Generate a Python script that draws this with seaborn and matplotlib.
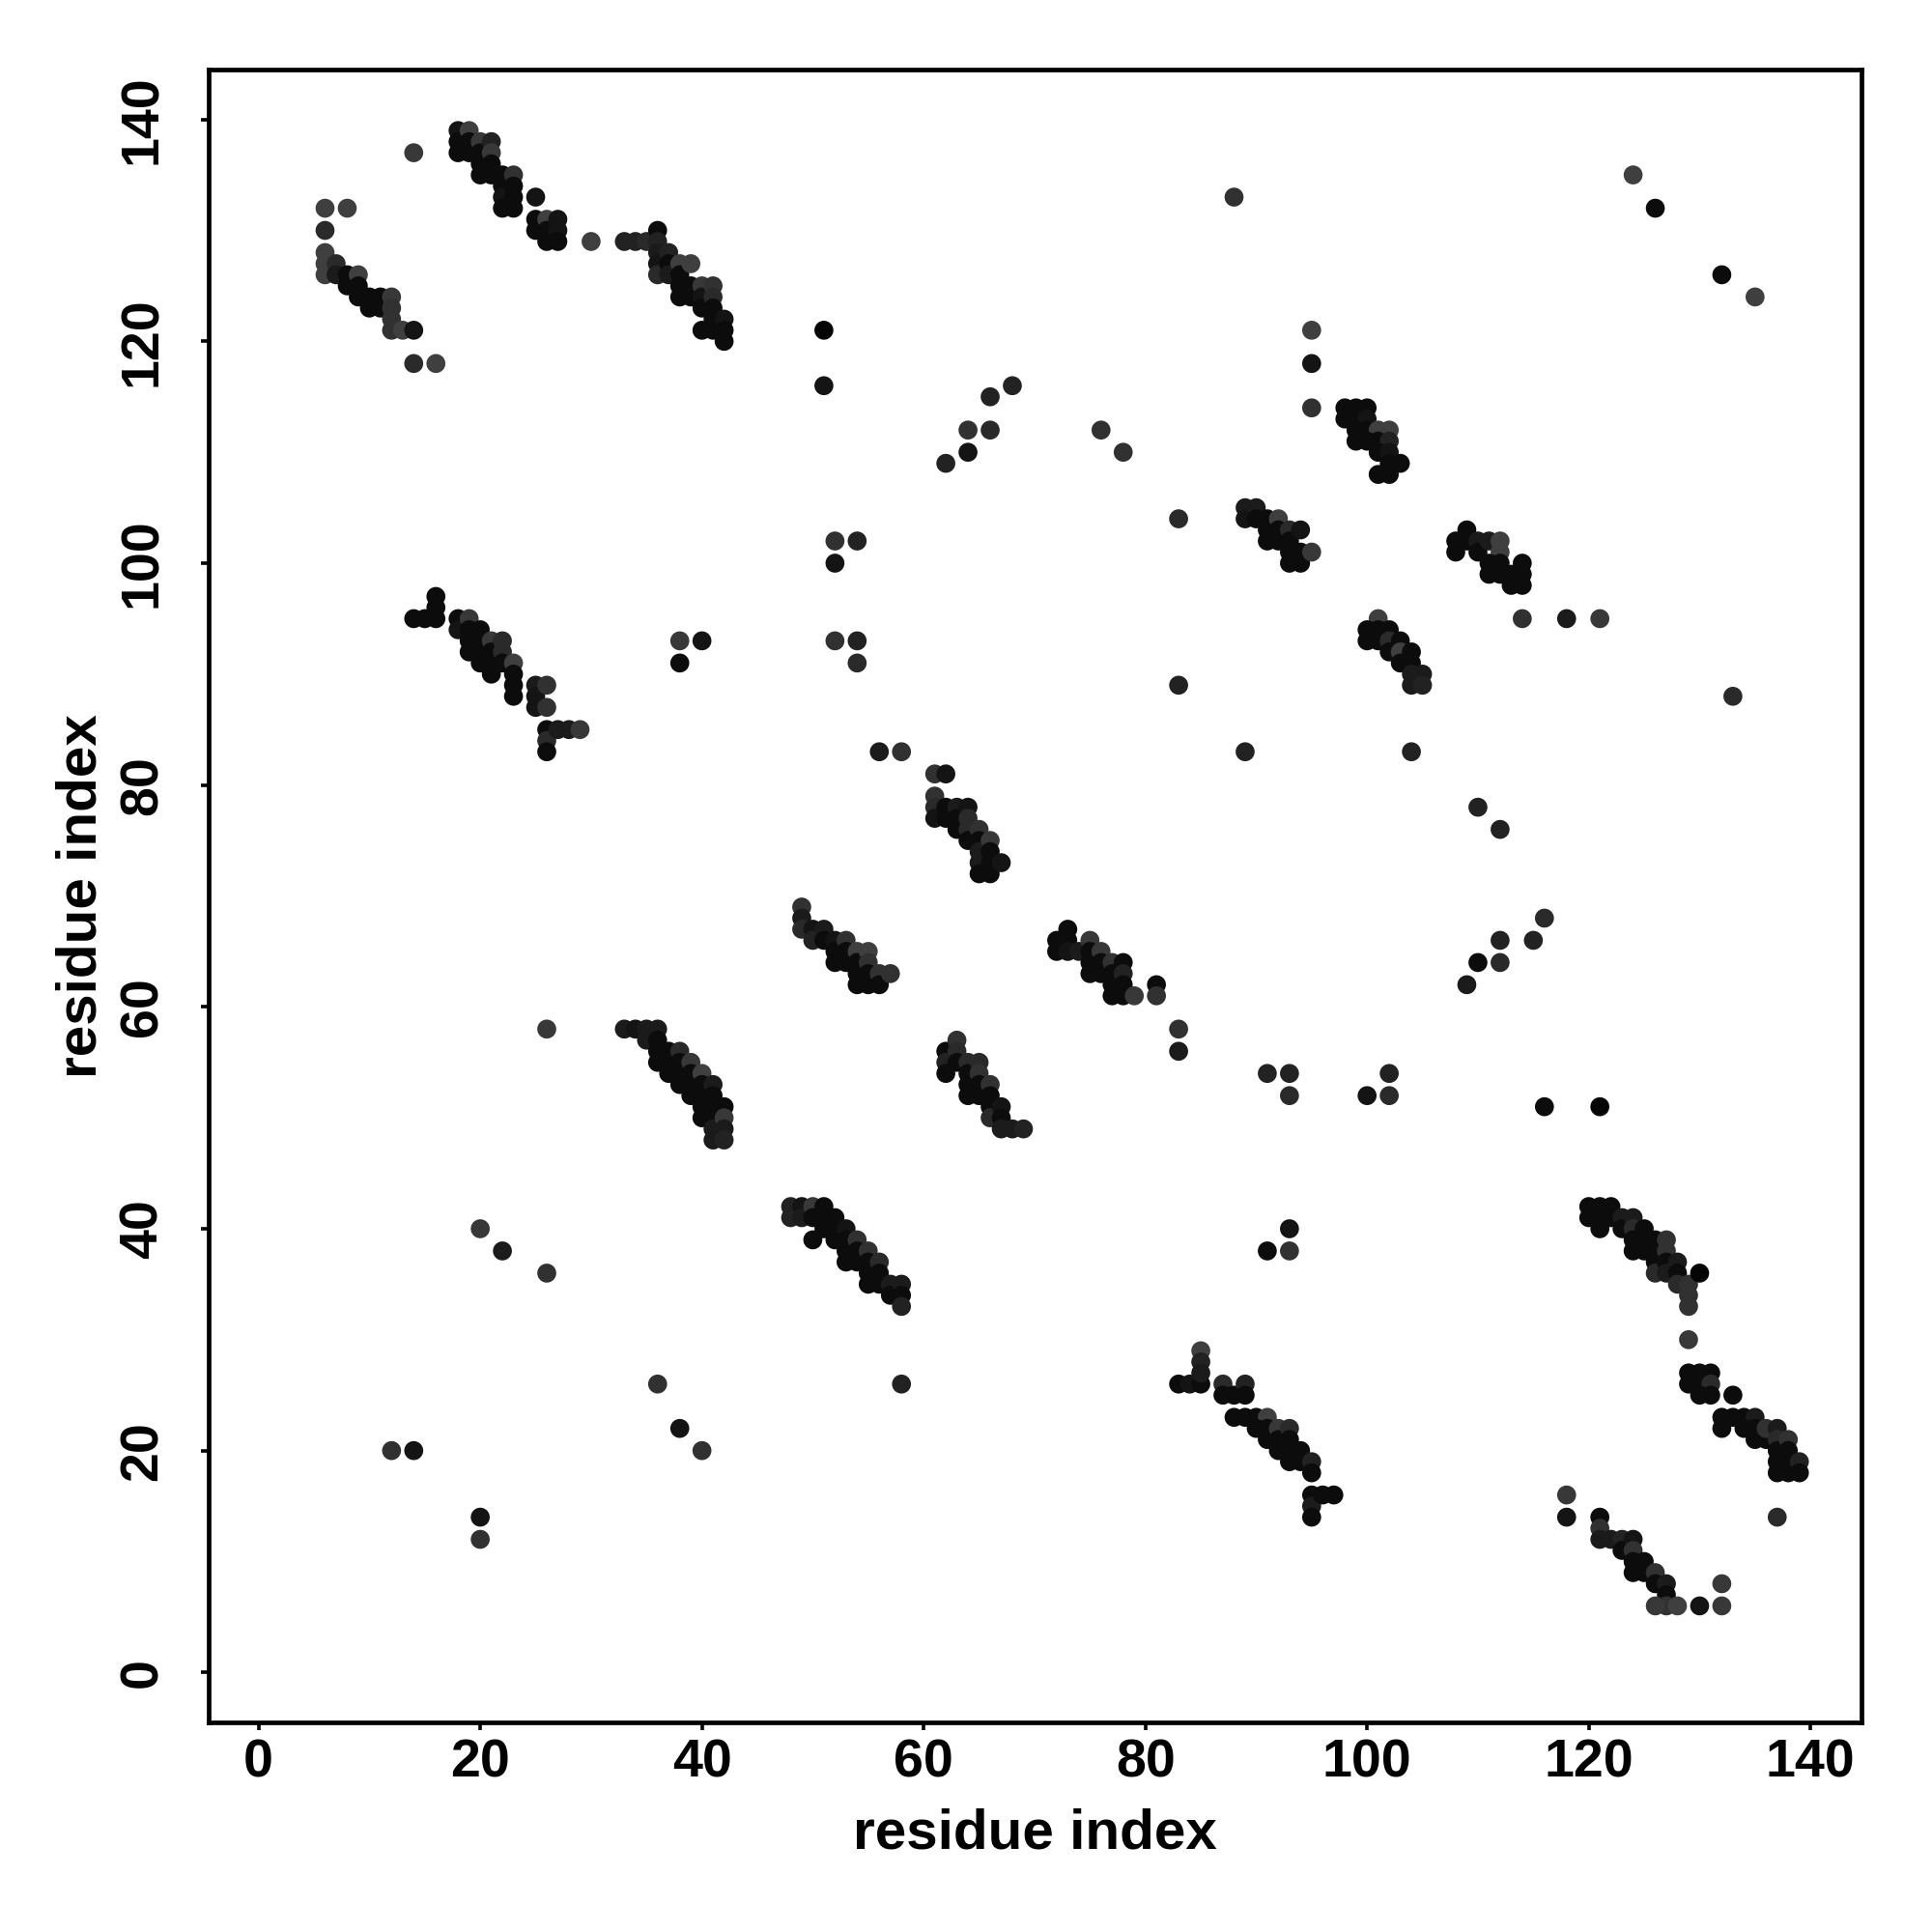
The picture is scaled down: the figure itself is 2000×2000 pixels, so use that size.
import numpy as np
import pandas as pd
import matplotlib
matplotlib.use('Agg')
import matplotlib.pyplot as plt
from matplotlib.colors import LinearSegmentedColormap
import seaborn as sns

# residue i, residue j, shade (0 = black, 1 = lightest grey)
block_a = [(14, 137, 0.7), (6, 132, 0.8), (8, 132, 0.8), (6, 130, 0.5), (6, 128, 0.8), (6, 127, 0.8),
           (6, 126, 0.8), (7, 127, 0.5), (7, 126, 0.3), (8, 126, 0.1), (8, 125, 0.1), (9, 126, 0.8),
           (9, 125, 0.1), (9, 124, 0.1), (10, 124, 0.1), (10, 123, 0.1), (11, 124, 0.1), (11, 123, 0.1),
           (12, 124, 0.7), (12, 123, 0.6), (12, 122, 0.6), (12, 121, 0.6), (13, 121, 0.8), (14, 121, 0.2),
           (14, 118, 0.5), (16, 118, 0.8)]
block_b = [(18, 139, 0.2), (18, 138, 0.1), (18, 137, 0.1), (19, 139, 0.8), (19, 138, 0.1), (19, 137, 0.1),
           (20, 138, 0.7), (20, 137, 0.1), (20, 136, 0.1), (20, 135, 0.1), (21, 138, 0.4), (21, 137, 0.7),
           (21, 136, 0.1), (21, 135, 0.1), (22, 135, 0.1), (22, 134, 0.1), (22, 133, 0.2), (22, 132, 0.1),
           (23, 135, 0.6), (23, 134, 0.1), (23, 133, 0.1), (23, 132, 0.1), (25, 133, 0.2), (25, 131, 0.1),
           (25, 130, 0.1), (26, 131, 0.8), (26, 130, 0.1), (26, 129, 0.1), (27, 131, 0.2), (27, 130, 0.2),
           (27, 129, 0.1), (30, 129, 0.8)]
block_c = [(33, 129, 0.4), (34, 129, 0.4), (35, 129, 0.5), (36, 130, 0.1), (36, 129, 0.4), (36, 128, 0.3),
           (36, 127, 0.2), (36, 126, 0.5), (37, 128, 0.4), (37, 127, 0.1), (37, 126, 0.3), (38, 127, 0.8),
           (38, 126, 0.1), (38, 125, 0.1), (38, 124, 0.1), (39, 127, 0.8), (39, 125, 0.1), (39, 124, 0.1),
           (40, 125, 0.7), (40, 124, 0.2), (40, 123, 0.1), (41, 125, 0.6), (41, 124, 0.5), (41, 123, 0.1),
           (41, 122, 0.1), (41, 121, 0.1), (40, 121, 0.1), (42, 122, 0.2), (42, 121, 0.1), (42, 120, 0.1)]
singles_top = [(51, 121, 0.0), (51, 116, 0.2), (66, 115, 0.4), (68, 116, 0.4), (64, 112, 0.6), (66, 112, 0.5),
               (64, 110, 0.2), (62, 109, 0.4), (76, 112, 0.6), (78, 110, 0.6), (95, 121, 0.8), (95, 118, 0.2),
               (95, 114, 0.6), (88, 133, 0.6), (124, 135, 0.8), (126, 132, 0.1), (132, 126, 0.1),
               (135, 124, 0.8)]
block_d = [(98, 114, 0.1), (99, 114, 0.1), (100, 114, 0.1), (98, 113, 0.1), (99, 113, 0.1), (100, 113, 0.2),
           (99, 112, 0.1), (100, 112, 0.1), (101, 112, 0.8), (102, 112, 0.8), (99, 111, 0.1), (100, 111, 0.1),
           (101, 111, 0.1), (102, 111, 0.4), (101, 110, 0.1), (102, 110, 0.2), (102, 109, 0.1),
           (103, 109, 0.1), (101, 108, 0.1), (102, 108, 0.1)]
block_e = [(14, 95, 0.1), (15, 95, 0.1), (16, 95, 0.1), (16, 96, 0.1), (16, 97, 0.1), (18, 95, 0.1),
           (18, 94, 0.2), (19, 95, 0.7), (19, 94, 0.1), (19, 93, 0.1), (19, 92, 0.1), (20, 94, 0.1),
           (20, 93, 0.1), (20, 92, 0.1), (20, 91, 0.1), (21, 93, 0.7), (21, 92, 0.1), (21, 91, 0.1),
           (21, 90, 0.1), (22, 93, 0.5), (22, 92, 0.5), (22, 91, 0.1), (23, 91, 0.8), (23, 90, 0.1),
           (23, 89, 0.1), (23, 88, 0.1), (25, 89, 0.3), (25, 88, 0.2), (25, 87, 0.2), (26, 89, 0.6),
           (26, 87, 0.6), (26, 85, 0.1), (26, 84, 0.5), (26, 83, 0.1), (27, 85, 0.3), (28, 85, 0.3),
           (29, 85, 0.7), (38, 93, 0.7), (40, 93, 0.2), (38, 91, 0.1)]
block_f = [(52, 102, 0.6), (54, 102, 0.4), (52, 100, 0.2), (52, 93, 0.6), (54, 93, 0.4), (54, 91, 0.5),
           (56, 83, 0.3), (58, 83, 0.6), (83, 104, 0.5), (83, 89, 0.4), (89, 83, 0.4),
           (61, 81, 0.6), (62, 81, 0.2), (61, 79, 0.6), (61, 78, 0.5), (61, 77, 0.2), (62, 78, 0.1),
           (62, 77, 0.1), (63, 78, 0.3), (63, 77, 0.1), (63, 76, 0.1), (64, 78, 0.2), (64, 77, 0.5),
           (64, 76, 0.5), (64, 75, 0.1), (65, 76, 0.6), (65, 75, 0.1), (65, 74, 0.3), (65, 73, 0.3),
           (65, 72, 0.1), (66, 75, 0.7), (66, 74, 0.1), (66, 73, 0.1), (66, 72, 0.1), (67, 73, 0.2)]
block_g = [(89, 105, 0.3), (89, 104, 0.2), (90, 105, 0.3), (90, 104, 0.1), (91, 104, 0.1), (91, 103, 0.1),
           (91, 102, 0.1), (92, 104, 0.8), (92, 103, 0.1), (92, 102, 0.1), (93, 103, 0.5), (93, 102, 0.1),
           (93, 101, 0.1), (93, 100, 0.1), (94, 103, 0.2), (94, 101, 0.1), (94, 100, 0.1), (95, 101, 0.7)]
block_h = [(109, 103, 0.1), (108, 102, 0.1), (108, 101, 0.1), (109, 102, 0.1), (110, 102, 0.3),
           (110, 101, 0.1), (111, 102, 0.3), (112, 102, 0.8), (112, 101, 0.8), (111, 100, 0.1),
           (111, 99, 0.1), (112, 100, 0.1), (112, 99, 0.1), (113, 99, 0.1), (113, 98, 0.1), (114, 100, 0.1),
           (114, 99, 0.1), (114, 98, 0.1), (114, 95, 0.6), (118, 95, 0.3), (121, 95, 0.7)]
block_i = [(101, 95, 0.8), (100, 94, 0.1), (100, 93, 0.1), (101, 94, 0.1), (101, 93, 0.1), (102, 94, 0.1),
           (102, 93, 0.5), (102, 92, 0.1), (103, 93, 0.1), (103, 92, 0.8), (103, 91, 0.1), (104, 92, 0.1),
           (104, 91, 0.1), (104, 90, 0.3), (104, 89, 0.3), (105, 90, 0.3), (105, 89, 0.4),
           (133, 88, 0.5), (104, 83, 0.4), (110, 78, 0.4), (112, 76, 0.4)]
block_j = [(26, 58, 0.7), (33, 58, 0.3), (34, 58, 0.2), (35, 58, 0.3), (35, 57, 0.3), (36, 58, 0.3),
           (36, 57, 0.1), (36, 56, 0.1), (36, 55, 0.1), (37, 56, 0.1), (37, 55, 0.1), (37, 54, 0.1),
           (38, 56, 0.5), (38, 55, 0.1), (38, 54, 0.1), (38, 53, 0.1), (39, 55, 0.7), (39, 54, 0.1),
           (39, 53, 0.1), (39, 52, 0.1), (40, 54, 0.8), (40, 53, 0.1), (40, 52, 0.1), (40, 51, 0.1),
           (40, 50, 0.1), (41, 53, 0.3), (41, 52, 0.1), (41, 51, 0.1), (41, 50, 0.1), (41, 49, 0.3),
           (41, 48, 0.3), (42, 51, 0.1), (42, 50, 0.7), (42, 49, 0.3), (42, 48, 0.4),
           (20, 40, 0.7), (22, 38, 0.3), (26, 36, 0.6)]
block_k = [(49, 69, 0.6), (49, 68, 0.3), (49, 67, 0.5), (50, 67, 0.2), (50, 66, 0.4), (51, 67, 0.3),
           (51, 66, 0.1), (52, 66, 0.2), (52, 65, 0.1), (52, 64, 0.1), (53, 66, 0.6), (53, 65, 0.1),
           (53, 64, 0.1), (54, 65, 0.8), (54, 64, 0.1), (54, 63, 0.1), (54, 62, 0.1), (55, 65, 0.8),
           (55, 64, 0.6), (55, 63, 0.1), (55, 62, 0.1), (56, 63, 0.6), (56, 62, 0.1), (57, 63, 0.6)]
block_l = [(72, 66, 0.1), (72, 65, 0.1), (73, 67, 0.1), (73, 66, 0.1), (73, 65, 0.2), (74, 65, 0.3),
           (75, 66, 0.7), (75, 65, 0.1), (75, 64, 0.1), (75, 63, 0.1), (76, 65, 0.7), (76, 64, 0.1),
           (76, 63, 0.1), (77, 64, 0.6), (77, 63, 0.1), (77, 62, 0.1), (78, 64, 0.1), (78, 63, 0.4),
           (78, 62, 0.1), (78, 61, 0.1), (77, 61, 0.1), (79, 61, 0.7), (81, 62, 0.1), (81, 61, 0.6),
           (83, 58, 0.6), (83, 56, 0.3), (91, 54, 0.4), (93, 54, 0.4), (93, 52, 0.5), (93, 40, 0.2),
           (91, 38, 0.1), (93, 38, 0.6)]
block_m = [(62, 56, 0.1), (62, 55, 0.4), (62, 54, 0.1), (63, 57, 0.6), (63, 56, 0.5), (63, 55, 0.1),
           (64, 55, 0.5), (64, 54, 0.1), (64, 53, 0.1), (64, 52, 0.1), (65, 55, 0.5), (65, 54, 0.6),
           (65, 53, 0.1), (65, 52, 0.1), (66, 53, 0.6), (66, 52, 0.1), (66, 51, 0.1), (66, 50, 0.5),
           (67, 51, 0.2), (67, 50, 0.1), (67, 49, 0.3), (68, 49, 0.3), (69, 49, 0.4)]
block_n = [(48, 42, 0.4), (48, 41, 0.4), (49, 42, 0.2), (49, 41, 0.3), (50, 42, 0.7), (50, 41, 0.1),
           (51, 42, 0.1), (51, 41, 0.1), (50, 39, 0.1), (51, 40, 0.1), (52, 41, 0.1), (52, 40, 0.1),
           (52, 39, 0.1), (53, 40, 0.2), (53, 39, 0.1), (53, 38, 0.1), (53, 37, 0.1), (54, 39, 0.6),
           (54, 38, 0.1), (54, 37, 0.1), (55, 38, 0.6), (55, 37, 0.1), (55, 36, 0.1), (55, 35, 0.1),
           (56, 37, 0.5), (56, 36, 0.1), (56, 35, 0.1), (57, 35, 0.3), (57, 34, 0.1), (58, 35, 0.3),
           (58, 34, 0.1), (58, 33, 0.4), (58, 26, 0.4)]
block_o = [(116, 68, 0.5), (115, 66, 0.4), (112, 66, 0.4), (112, 64, 0.5), (110, 64, 0.1), (109, 62, 0.3),
           (102, 54, 0.4), (102, 52, 0.5), (100, 52, 0.2), (116, 51, 0.1), (121, 51, 0.0)]
block_p = [(120, 42, 0.1), (121, 42, 0.1), (122, 42, 0.1), (120, 41, 0.1), (121, 41, 0.1), (121, 40, 0.1),
           (122, 41, 0.1), (123, 41, 0.3), (123, 40, 0.1), (124, 41, 0.3), (124, 40, 0.5), (124, 39, 0.1),
           (124, 38, 0.1), (125, 40, 0.1), (125, 39, 0.1), (125, 38, 0.1), (126, 39, 0.1), (126, 38, 0.1),
           (126, 37, 0.1), (126, 36, 0.5), (127, 39, 0.6), (127, 38, 0.6), (127, 37, 0.1), (127, 36, 0.3),
           (128, 37, 0.3), (128, 36, 0.1), (128, 35, 0.5), (129, 35, 0.6), (129, 34, 0.6), (129, 33, 0.6),
           (130, 36, 0.0), (129, 30, 0.7)]
block_q = [(129, 27, 0.1), (130, 27, 0.1), (131, 27, 0.1), (129, 26, 0.1), (130, 26, 0.1), (131, 26, 0.5),
           (130, 25, 0.1), (131, 25, 0.1), (133, 25, 0.1), (132, 23, 0.1), (133, 23, 0.1), (134, 23, 0.1),
           (135, 23, 0.3), (132, 22, 0.1), (134, 22, 0.1), (135, 22, 0.1), (135, 21, 0.1), (136, 21, 0.1),
           (136, 22, 0.6), (137, 22, 0.3), (137, 21, 0.5), (137, 20, 0.1), (137, 19, 0.1), (138, 21, 0.6),
           (138, 20, 0.1), (138, 19, 0.1), (138, 18, 0.1), (137, 18, 0.1), (139, 19, 0.4), (139, 18, 0.1),
           (137, 14, 0.5)]
block_r = [(83, 26, 0.1), (84, 26, 0.2), (85, 26, 0.1), (85, 29, 0.8), (85, 28, 0.4), (85, 27, 0.3),
           (87, 26, 0.5), (87, 25, 0.1), (88, 25, 0.1), (89, 26, 0.4), (89, 25, 0.1), (88, 23, 0.1),
           (89, 23, 0.1), (90, 23, 0.1), (91, 23, 0.8), (91, 22, 0.1), (91, 21, 0.1), (90, 22, 0.1),
           (92, 22, 0.7), (92, 21, 0.1), (92, 20, 0.1), (93, 22, 0.5), (93, 21, 0.1), (93, 20, 0.1),
           (93, 19, 0.1), (94, 20, 0.1), (94, 19, 0.1), (95, 19, 0.4), (95, 18, 0.1), (95, 16, 0.1),
           (95, 15, 0.3), (95, 14, 0.1), (96, 16, 0.1), (97, 16, 0.1)]
block_s = [(118, 16, 0.7), (118, 14, 0.2), (121, 14, 0.1), (121, 13, 0.6), (121, 12, 0.3), (122, 12, 0.3),
           (123, 12, 0.4), (123, 11, 0.1), (124, 12, 0.2), (124, 11, 0.6), (124, 10, 0.1), (124, 9, 0.1),
           (125, 10, 0.1), (125, 9, 0.1), (126, 9, 0.6), (126, 8, 0.1), (127, 8, 0.3), (127, 7, 0.1),
           (127, 6, 0.6), (126, 6, 0.7), (128, 6, 0.8), (130, 6, 0.2), (132, 8, 0.7), (132, 6, 0.7)]
singles_low = [(12, 20, 0.6), (14, 20, 0.2), (20, 14, 0.2), (20, 12, 0.6), (36, 26, 0.6), (38, 22, 0.2),
               (40, 20, 0.6)]

all_blocks = [block_a, block_b, block_c, singles_top, block_d, block_e, block_f, block_g, block_h,
              block_i, block_j, block_k, block_l, block_m, block_n, block_o, block_p, block_q,
              block_r, block_s, singles_low]
df = pd.DataFrame([p for b in all_blocks for p in b], columns=['res_i', 'res_j', 'shade'])

ticks = [0, 20, 40, 60, 80, 100, 120, 140]

greys = LinearSegmentedColormap.from_list('greys_dark', ['#050505', '#4e4e4e'])

sns.set_style('white')
plt.rcParams['font.family'] = ['Liberation Sans', 'DejaVu Sans']
plt.rcParams['font.weight'] = 'bold'
plt.rcParams['text.color'] = 'black'
plt.rcParams['axes.labelcolor'] = 'black'
plt.rcParams['xtick.color'] = 'black'
plt.rcParams['ytick.color'] = 'black'

fig = plt.figure(figsize=(10, 10), dpi=200)
ax = fig.add_axes([0.108, 0.1085, 0.8555, 0.8555])

sns.scatterplot(data=df, x='res_i', y='res_j', hue='shade', palette=greys, hue_norm=(0, 1),
                s=50, linewidth=0, legend=False, ax=ax)

ax.set_xlim(-4.5, 144.6)
ax.set_ylim(-4.5, 144.5)
ax.set_xticks(ticks)
ax.set_yticks(ticks)
ax.set_xticklabels([str(t) for t in ticks], fontsize=20, fontweight='bold', color='black')
ax.set_yticklabels([str(t) for t in ticks], fontsize=20, fontweight='bold', color='black',
                   rotation=90, va='center')
ax.tick_params(axis='both', direction='out', length=3, width=1.3, color='black', bottom=True, left=True)
ax.tick_params(axis='x', pad=3)
ax.tick_params(axis='y', pad=12)
for sp in ax.spines.values():
    sp.set_visible(True)
    sp.set_color('black')
    sp.set_linewidth(1.7)

ax.set_xlabel('residue index', fontsize=21, fontweight='bold', labelpad=7, color='black')
ax.set_ylabel('residue index', fontsize=21, fontweight='bold', labelpad=4, color='black')

fig.savefig('out.png', dpi=200, facecolor='white')
